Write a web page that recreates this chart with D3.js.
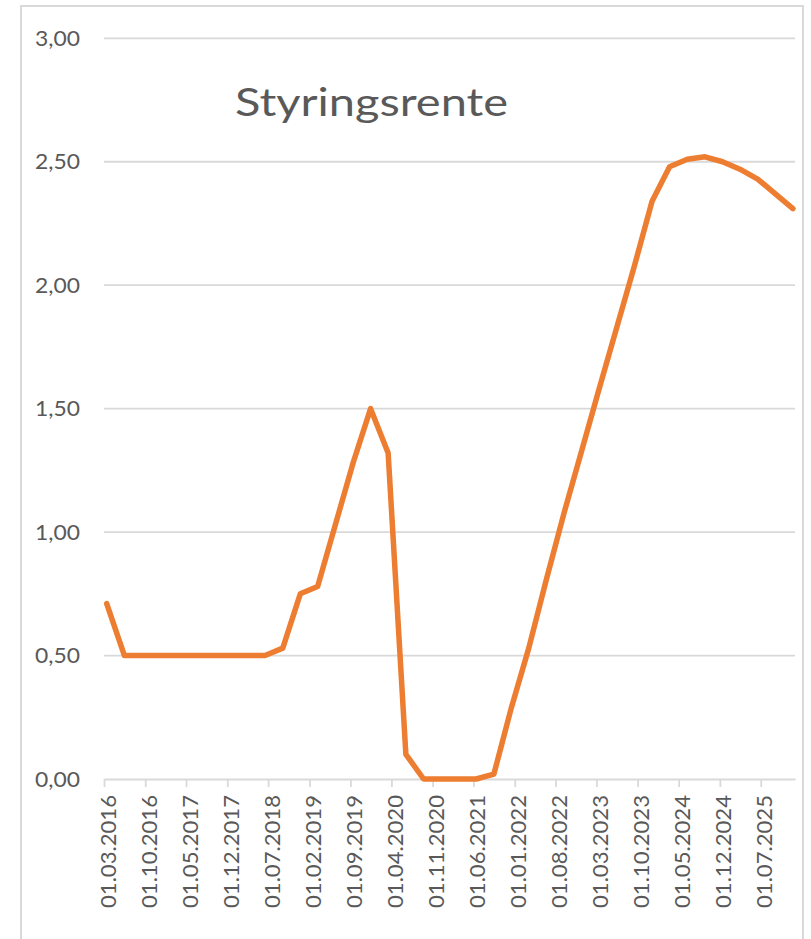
<!DOCTYPE html>
<html>
<head>
<meta charset="utf-8">
<script src="https://cdn.jsdelivr.net/npm/d3@7/dist/d3.min.js"></script>
<style>
  html, body { margin: 0; padding: 0; background: #ffffff; }
  svg { display: block; }
  text { font-family: Lato, "Open Sans", sans-serif; fill: #595959; }
</style>
</head>
<body>
<svg id="chart" width="811" height="939"></svg>
<script>
// ---- data ----
const title = "Styringsrente";
const periods = [
  "2016-03-15","2016-06-15","2016-09-15","2016-12-15",
  "2017-03-15","2017-06-15","2017-09-15","2017-12-15",
  "2018-03-15","2018-06-15","2018-09-15","2018-12-15",
  "2019-03-15","2019-06-15","2019-09-15","2019-12-15",
  "2020-03-15","2020-06-15","2020-09-15","2020-12-15",
  "2021-03-15","2021-06-15","2021-09-15","2021-12-15",
  "2022-03-15","2022-06-15","2022-09-15","2022-12-15",
  "2023-03-15","2023-06-15","2023-09-15","2023-12-15",
  "2024-03-15","2024-06-15","2024-09-15","2024-12-15",
  "2025-03-15","2025-06-15","2025-09-15","2025-12-15"
];
const rate = [
  0.71, 0.50, 0.50, 0.50,
  0.50, 0.50, 0.50, 0.50,
  0.50, 0.50, 0.53, 0.75,
  0.78, 1.03, 1.28, 1.50,
  1.32, 0.10, 0.00, 0.00,
  0.00, 0.00, 0.02, 0.29,
  0.53, 0.81, 1.08, 1.33,
  1.58, 1.83, 2.08, 2.34,
  2.48, 2.51, 2.52, 2.50,
  2.47, 2.43, 2.37, 2.31
];
const xTickLabels = [
  "01.03.2016","01.10.2016","01.05.2017","01.12.2017","01.07.2018",
  "01.02.2019","01.09.2019","01.04.2020","01.11.2020","01.06.2021",
  "01.01.2022","01.08.2022","01.03.2023","01.10.2023","01.05.2024",
  "01.12.2024","01.07.2025"
];
const yTicks = [0, 0.5, 1.0, 1.5, 2.0, 2.5, 3.0];
const axisStart = "2016-03-01";
const axisEnd = "2025-12-26";

// ---- drawing ----
const svg = d3.select("#chart");
const parseISO = d3.utcParse("%Y-%m-%d");
const parseDMY = d3.utcParse("%d.%m.%Y");
const data = periods.map((p, i) => ({ date: parseISO(p), value: rate[i] }));

const x = d3.scaleUtc()
  .domain([parseISO(axisStart), parseISO(axisEnd)])
  .range([104, 795]);
const y = d3.scaleLinear().domain([0, 3]).range([779, 38.3]);

const grid = "#d9d9d9";

// outer frame
svg.append("rect")
  .attr("x", 21).attr("y", 6)
  .attr("width", 782).attr("height", 960)
  .attr("fill", "none").attr("stroke", grid).attr("stroke-width", 2);

// gridlines
svg.append("g").selectAll("line").data(yTicks.filter(d => d > 0)).join("line")
  .attr("x1", x.range()[0]).attr("x2", x.range()[1])
  .attr("y1", d => y(d)).attr("y2", d => y(d))
  .attr("stroke", grid).attr("stroke-width", 1.8);

// y labels
const fmt = d => d3.format(".2f")(d).replace(".", ",");
svg.append("g").selectAll("text").data(yTicks).join("text")
  .attr("x", 80).attr("y", d => y(d))
  .attr("dy", "0.36em")
  .attr("text-anchor", "end")
  .attr("font-size", 21)
  .attr("textLength", 45).attr("lengthAdjust", "spacingAndGlyphs")
  .text(fmt);

// x axis
const tickDates = xTickLabels.map(parseDMY);
const xAxis = d3.axisBottom(x)
  .tickValues(tickDates)
  .tickSize(8)
  .tickSizeOuter(0)
  .tickFormat((d, i) => xTickLabels[i]);
const gx = svg.append("g").attr("transform", `translate(0,${y(0)})`).call(xAxis);
gx.select(".domain").attr("stroke", grid).attr("stroke-width", 1.8);
gx.selectAll(".tick line").attr("stroke", grid).attr("stroke-width", 1.8);
gx.selectAll(".tick text")
  .attr("fill", "#595959")
  .attr("font-size", 21)
  .attr("font-family", "Lato, 'Open Sans', sans-serif")
  .attr("text-anchor", "end")
  .attr("transform", "translate(11,16) rotate(-90)")
  .attr("x", 0).attr("y", 0).attr("dy", 0)
  .attr("textLength", 113).attr("lengthAdjust", "spacingAndGlyphs");

// line
const line = d3.line().x(d => x(d.date)).y(d => y(d.value));
svg.append("path").datum(data)
  .attr("d", line)
  .attr("fill", "none")
  .attr("stroke", "#ED7D31")
  .attr("stroke-width", 5.5)
  .attr("stroke-linejoin", "round")
  .attr("stroke-linecap", "round");

// title
svg.append("text")
  .attr("x", 235).attr("y", 116)
  .attr("font-size", 39)
  .attr("textLength", 273).attr("lengthAdjust", "spacingAndGlyphs")
  .text(title);
</script>
</body>
</html>
